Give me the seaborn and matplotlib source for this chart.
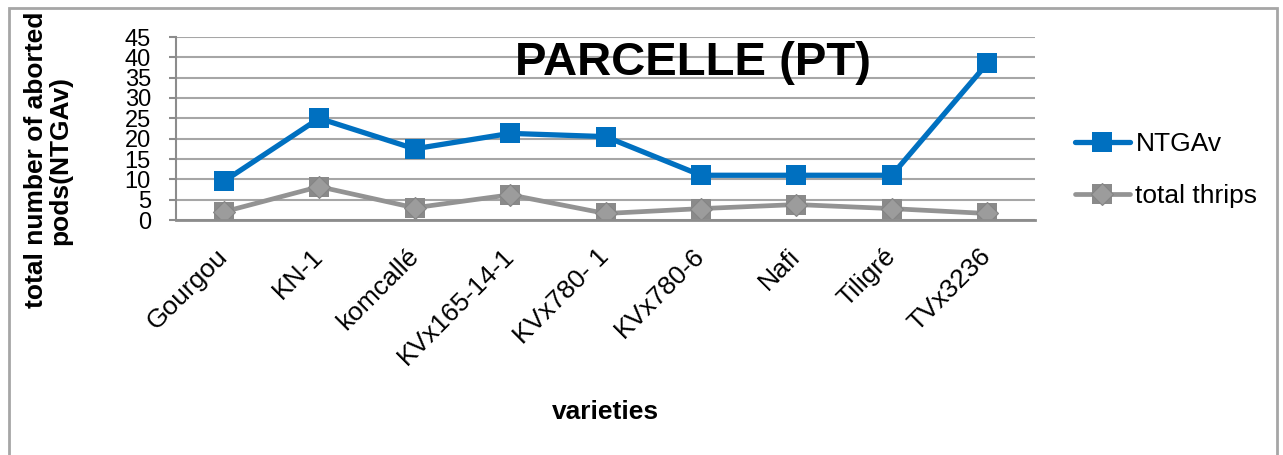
import matplotlib
matplotlib.use("Agg")
import matplotlib.pyplot as plt
import seaborn as sns
from matplotlib.patches import Rectangle
from matplotlib.legend_handler import HandlerTuple

# data
varieties = ['Gourgou', 'KN-1', 'komcallé', 'KVx165-14-1', 'KVx780- 1',
             'KVx780-6', 'Nafi', 'Tiligré', 'TVx3236']
ntgav = [9.5, 25, 17.5, 21.3, 20.5, 11, 11, 11, 38.5]
total_thrips = [2, 8.2, 3, 6.2, 1.6, 2.8, 3.8, 2.8, 1.6]
y_ticks = [0, 5, 10, 15, 20, 25, 30, 35, 40, 45]

sns.set_style("white")
plt.rcParams['font.family'] = ['Liberation Sans', 'DejaVu Sans']
plt.rcParams['text.color'] = 'black'
plt.rcParams['xtick.color'] = 'black'
plt.rcParams['ytick.color'] = 'black'

W, H = 1283, 455
fig = plt.figure(figsize=(W / 100, H / 100), dpi=100)
ax = fig.add_axes([176 / W, 1 - 220 / H, (1035 - 176) / W, (220 - 37) / H])

blue = '#0070C0'
grey_line = '#939393'
grey_mark = '#8a8a8a'

sns.lineplot(x=varieties, y=ntgav, ax=ax, sort=False, color=blue, lw=3.8,
             marker='s', markersize=15, markeredgewidth=0, label='NTGAv')
sns.lineplot(x=varieties, y=total_thrips, ax=ax, sort=False, color=grey_line, lw=3.4,
             marker='s', markersize=15, markerfacecolor=grey_mark,
             markeredgewidth=0, label='total thrips')
# diamond shading inside the grey squares
sns.lineplot(x=varieties, y=total_thrips, ax=ax, sort=False, lw=0,
             marker='D', markersize=11, markerfacecolor='#9c9c9c',
             markeredgecolor='#858585', markeredgewidth=0.8, label='_diamond')

ax.set_xlim(-0.5, len(varieties) - 0.5)
ax.set_ylim(0, 45)
ax.set_yticks(y_ticks)
ax.yaxis.grid(True, color='#a6a6a6', lw=1.5)
ax.set_axisbelow(True)
for s in ['top', 'right']:
    ax.spines[s].set_visible(False)
ax.spines['left'].set_color('#8c8c8c')
ax.spines['bottom'].set_color('#8c8c8c')
ax.spines['left'].set_linewidth(1.5)
ax.spines['bottom'].set_linewidth(2)

ax.tick_params(axis='y', left=True, length=5, width=1.5, color='#8c8c8c',
               labelcolor='black', labelsize=17, pad=13)
ax.tick_params(axis='x', bottom=False, labelcolor='black', labelsize=19, pad=20)
plt.setp(ax.get_xticklabels(), rotation=45, ha='right', va='center',
         rotation_mode='anchor')
ax.set_xlabel('')
ax.set_ylabel('')
ax.get_legend().remove()

fig.text(693 / W, 1 - 75 / H, 'PARCELLE (PT)', fontsize=34, fontweight='bold',
         ha='center', va='baseline', color='black')
fig.text(605 / W, 1 - 412 / H, 'varieties', fontsize=19, fontweight='bold',
         ha='center', va='center', color='black')
fig.text(48 / W, 1 - 160 / H, 'total number of aborted\npods(NTGAv)', fontsize=19,
         fontweight='bold', rotation=90, ha='center', va='center', ma='center',
         linespacing=1.05, color='black')

lines = ax.get_lines()
fig.legend([lines[0], (lines[1], lines[2])], ['NTGAv', 'total thrips'],
           handler_map={tuple: HandlerTuple(ndivide=1, pad=0)},
           loc='center left', bbox_to_anchor=(1051 / W, 1 - 170 / H),
           frameon=False, fontsize=19, handlelength=2.1, handletextpad=0.2,
           labelspacing=1.05, labelcolor='black')

fig.patches.append(Rectangle((9 / W, -0.05), (1277 - 9) / W, 1.05 - 8 / H,
                             transform=fig.transFigure, fill=False,
                             edgecolor='#a6a6a6', lw=2))

fig.savefig('out.png', dpi=100, facecolor='white')
